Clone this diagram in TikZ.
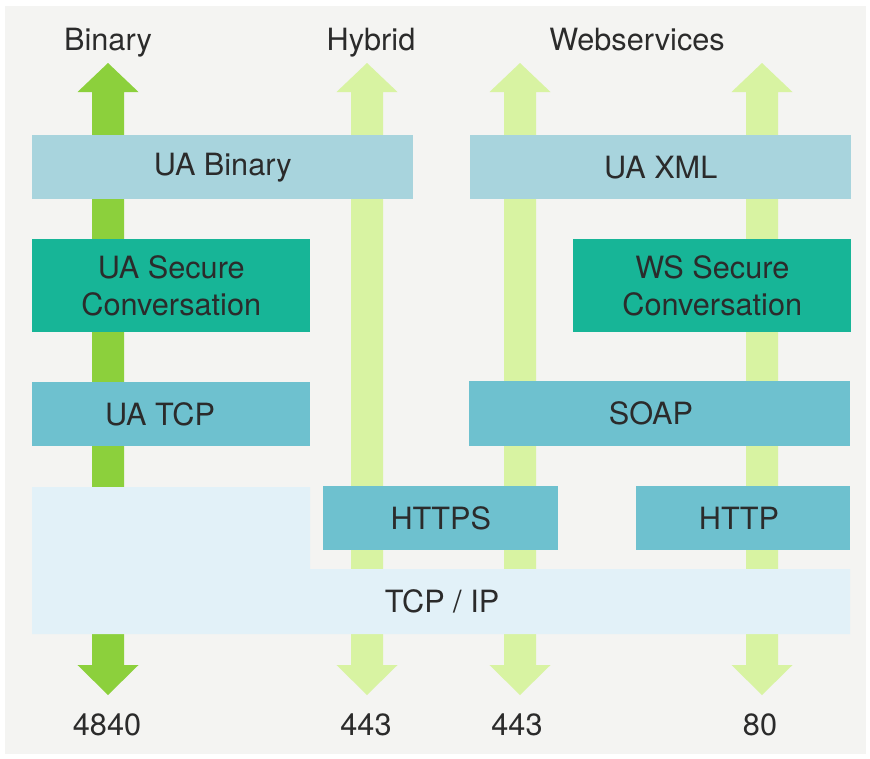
\documentclass[tikz,border=0pt]{standalone}
\usepackage{fontspec}
\setmainfont{TeX Gyre Heros}
\definecolor{bg}{HTML}{F4F4F2}
\definecolor{txt}{HTML}{2B2B2B}
\definecolor{gbright}{HTML}{8CD03C}
\definecolor{glight}{HTML}{D8F3A2}
\definecolor{ualight}{HTML}{A8D4DD}
\definecolor{teal}{HTML}{17B597}
\definecolor{uamid}{HTML}{6EC1CF}
\definecolor{tcpip}{HTML}{E2F1F8}
\begin{document}
\begin{tikzpicture}[x=0.75pt,y=-0.75pt,
  lbl/.style={font=\fontsize{23}{27.75}\selectfont, text=txt, inner sep=0pt},
  box/.style={lbl, rectangle, anchor=north west, align=center},
  toplbl/.style={lbl, anchor=base}]
\useasboundingbox (0,0) rectangle (870,758);
\fill[white] (0,0) rectangle (870,758);
\fill[bg] (5,6) rectangle (866,754);
% port arrows
\foreach \c/\col in {108/gbright, 367/glight, 520/glight, 762/glight}{
  \fill[\col] ({\c-16},92) -- ({\c-30.5},92) -- (\c,63) -- ({\c+30.5},92) -- ({\c+16},92)
    -- ({\c+16},665) -- ({\c+30.5},665) -- (\c,695) -- ({\c-30.5},665) -- ({\c-16},665) -- cycle;
}
% layers
\node[box, fill=ualight, minimum width=381*0.75pt, minimum height=64*0.75pt] (uabin) at (32,135) {UA Binary};
\node[box, fill=ualight, minimum width=381*0.75pt, minimum height=64*0.75pt] (uaxml) at (470,135) {UA XML};
\node[box, fill=teal, minimum width=278*0.75pt, minimum height=93*0.75pt] (uasc) at (32,239) {UA Secure\\Conversation};
\node[box, fill=teal, minimum width=278*0.75pt, minimum height=93*0.75pt] (wssc) at (573,239) {WS Secure\\Conversation};
\node[box, fill=uamid, minimum width=278*0.75pt, minimum height=64*0.75pt] (uatcp) at (32,382) {};
\node[lbl] (uatcpt) at (160,414) {UA TCP};
\node[box, fill=uamid, minimum width=381*0.75pt, minimum height=65*0.75pt] (soap) at (469,381) {};
\node[lbl] (soapt) at (651,413.5) {SOAP};
\fill[tcpip] (32,487) -- (310,487) -- (310,569) -- (850,569) -- (850,634) -- (32,634) -- cycle;
\node[box, fill=uamid, minimum width=235*0.75pt, minimum height=64*0.75pt] (https) at (323,486) {HTTPS};
\node[box, fill=uamid, minimum width=214*0.75pt, minimum height=64*0.75pt] (http) at (636,486) {};
\node[lbl] (httpt) at (739,518) {HTTP};
\node[lbl, anchor=base] (tcpipt) at (442,612) {TCP / IP};
% column labels
\node[toplbl] (binary) at (108,50) {Binary};
\node[toplbl] (hybrid) at (371,50) {Hybrid};
\node[toplbl] (websvc) at (637,50) {Webservices};
% port numbers
\node[toplbl] (p4840) at (107,735) {4840};
\node[toplbl] (p443a) at (366,735) {443};
\node[toplbl] (p443b) at (517,735) {443};
\node[toplbl] (p80) at (760,735) {80};
\end{tikzpicture}
\end{document}
